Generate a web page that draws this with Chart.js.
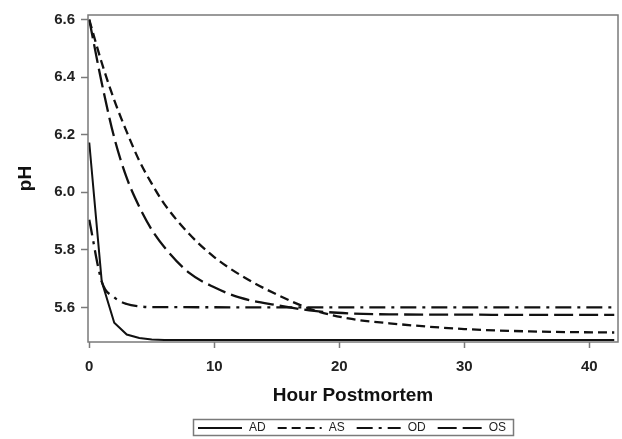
<!DOCTYPE html>
<html>
<head>
<meta charset="utf-8">
<script src="https://cdn.jsdelivr.net/npm/chart.js@4"></script>
<style>
  html, body { margin: 0; padding: 0; background: #fff; }
  canvas { display: block; }
</style>
</head>
<body>
<canvas id="phChart" width="622" height="439"></canvas>
<script>
// series names
const seriesNames = ["AD", "AS", "OD", "OS"];

// hours postmortem and pH
const adHours = [0, 1, 2, 3, 4, 5, 6, 8, 42];
const adPH = [6.173, 5.69, 5.547, 5.506, 5.494, 5.489, 5.487, 5.487, 5.487];

const asHours = [0, 1, 2, 3, 4, 5, 6, 8, 10, 12, 15, 18, 21, 24, 30, 36, 42];
const asPH = [6.6, 6.45, 6.32, 6.21, 6.11, 6.03, 5.96, 5.855, 5.775, 5.715, 5.645, 5.59, 5.56, 5.545, 5.525, 5.516, 5.513];

const odHours = [0, 1, 2, 3, 4, 5, 42];
const odPH = [5.905, 5.69, 5.635, 5.612, 5.604, 5.601, 5.6];

const osHours = [0, 1, 2, 3, 4, 5, 6, 8, 10, 12, 15, 18, 21, 24, 30, 36, 42];
const osPH = [6.6, 6.38, 6.19, 6.05, 5.95, 5.87, 5.81, 5.72, 5.67, 5.635, 5.608, 5.588, 5.579, 5.576, 5.575, 5.574, 5.574];

// axis ticks
const xTicks = [0, 10, 20, 30, 40];
const yTicks = [5.6, 5.8, 6.0, 6.2, 6.4, 6.6];

const FONT = "'Liberation Sans', Arial, sans-serif";
const GRAY = "#7a7a7a";

const toPoints = (xs, ys) => xs.map((x, i) => ({ x: x, y: ys[i] }));

// legend drawn under the x axis title, in a thin box
const boxLegend = {
  id: "boxLegend",
  afterDraw(chart) {
    const ctx = chart.ctx;
    ctx.save();
    ctx.strokeStyle = GRAY;
    ctx.lineWidth = 1.5;
    ctx.setLineDash([]);
    ctx.strokeRect(193.5, 419.5, 320, 16);

    ctx.font = "12px " + FONT;
    ctx.textBaseline = "middle";
    ctx.fillStyle = "#222";
    let x = 198;
    const y = 428;
    chart.data.datasets.forEach((ds) => {
      ctx.beginPath();
      ctx.strokeStyle = ds.borderColor;
      ctx.lineWidth = 2;
      ctx.setLineDash(ds.borderDash || []);
      ctx.moveTo(x, y);
      ctx.lineTo(x + 44, y);
      ctx.stroke();
      ctx.setLineDash([]);
      x += 51;
      ctx.fillText(ds.label, x, y);
      x += ctx.measureText(ds.label).width + 12;
    });
    ctx.restore();
  },
};

// grey frame round the plot area
const plotFrame = {
  id: "plotFrame",
  afterDatasetsDraw(chart) {
    const { ctx, chartArea: a } = chart;
    ctx.save();
    ctx.strokeStyle = GRAY;
    ctx.lineWidth = 1.5;
    ctx.strokeRect(a.left, a.top, a.right - a.left, a.bottom - a.top);
    ctx.restore();
  },
};

new Chart(document.getElementById("phChart"), {
  type: "line",
  data: {
    datasets: [
      {
        label: seriesNames[0],
        data: toPoints(adHours, adPH),
        borderColor: "#111",
        borderWidth: 2,
        borderDash: [],
        tension: 0,
      },
      {
        label: seriesNames[1],
        data: toPoints(asHours, asPH),
        borderColor: "#111",
        borderWidth: 2.3,
        borderDash: [9, 5],
        cubicInterpolationMode: "monotone",
      },
      {
        label: seriesNames[2],
        data: toPoints(odHours, odPH),
        borderColor: "#111",
        borderWidth: 2.3,
        borderDash: [16, 6, 3, 6],
        cubicInterpolationMode: "monotone",
      },
      {
        label: seriesNames[3],
        data: toPoints(osHours, osPH),
        borderColor: "#111",
        borderWidth: 2.3,
        borderDash: [19, 6],
        cubicInterpolationMode: "monotone",
      },
    ],
  },
  options: {
    responsive: false,
    animation: false,
    events: [],
    elements: { point: { radius: 0 } },
    layout: { padding: { top: 11, right: 4, bottom: 30, left: 0 } },
    plugins: {
      legend: { display: false },
      tooltip: { enabled: false },
    },
    scales: {
      x: {
        type: "linear",
        min: -0.1,
        max: 42.3,
        afterBuildTicks: (scale) => {
          scale.ticks = xTicks.map((v) => ({ value: v }));
        },
        afterFit: (scale) => {
          scale.height = 67;
        },
        grid: {
          drawOnChartArea: false,
          drawTicks: true,
          tickLength: 6,
          tickColor: GRAY,
          tickWidth: 1.5,
        },
        border: { display: false },
        ticks: {
          padding: 10,
          color: "#222",
          font: { family: FONT, size: 15, weight: "bold" },
        },
        title: {
          display: true,
          text: "Hour Postmortem",
          color: "#111",
          font: { family: FONT, size: 19, weight: "bold" },
          padding: { top: 0, bottom: 2 },
        },
      },
      y: {
        type: "linear",
        min: 5.48,
        max: 6.616,
        afterBuildTicks: (scale) => {
          scale.ticks = yTicks.map((v) => ({ value: v }));
        },
        afterFit: (scale) => {
          scale.width = 88;
        },
        grid: {
          drawOnChartArea: false,
          drawTicks: true,
          tickLength: 7,
          tickColor: GRAY,
          tickWidth: 1.5,
        },
        border: { display: false },
        ticks: {
          padding: 6,
          color: "#222",
          font: { family: FONT, size: 15, weight: "bold" },
          callback: (v) => Number(v).toFixed(1),
        },
        title: {
          display: true,
          text: "pH",
          color: "#111",
          font: { family: FONT, size: 19, weight: "bold" },
          padding: { top: 14, bottom: 0 },
        },
      },
    },
  },
  plugins: [plotFrame, boxLegend],
});
</script>
</body>
</html>
